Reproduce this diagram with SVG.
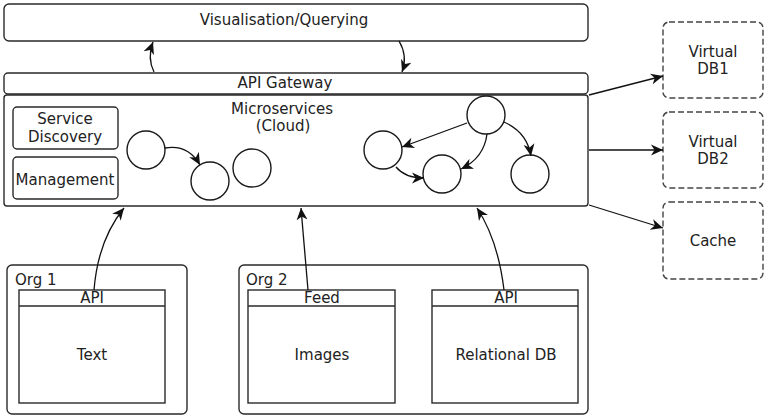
<svg xmlns="http://www.w3.org/2000/svg" width="768" height="419" viewBox="0 0 768 419">
<defs>
<style>
.box{fill:#fff;stroke:#2a2a2a;stroke-width:1.4}
.dash{fill:#fff;stroke:#444;stroke-width:1.4;stroke-dasharray:6 3}
.circ{fill:#fff;stroke:#1a1a1a;stroke-width:1.4}
.edge{fill:none;stroke:#111;stroke-width:1.3;marker-end:url(#arr)}
text{font-family:"DejaVu Sans","Liberation Sans",sans-serif;font-size:15px;fill:#222;text-anchor:middle}
.left{text-anchor:start}
</style>
<marker id="arr" markerUnits="userSpaceOnUse" markerWidth="14" markerHeight="12" refX="12" refY="5.5" orient="auto" viewBox="0 0 14 11">
<path d="M0,0 L12,5.5 L0,11 L3.5,5.5 z" fill="#111"/>
</marker>
</defs>
<rect width="768" height="419" fill="#fff"/>

<g id="visualisation">
<rect class="box" x="4" y="4" width="584" height="37" rx="5"/>
<text x="284" y="25">Visualisation/Querying</text>
</g>

<g id="api-gateway">
<rect class="box" x="4" y="73" width="584" height="21" rx="4"/>
<text x="285" y="88">API Gateway</text>
</g>

<g id="microservices">
<rect class="box" x="4" y="95" width="584" height="111" rx="3"/>
<text x="282" y="114">Microservices</text>
<text x="283" y="131">(Cloud)</text>
</g>

<g id="service-discovery">
<rect class="box" x="13" y="107" width="105" height="42" rx="4"/>
<text x="65" y="124">Service</text>
<text x="65" y="142">Discovery</text>
</g>

<g id="management">
<rect class="box" x="13" y="157" width="105" height="42" rx="4"/>
<text x="65" y="185">Management</text>
</g>

<g id="c1"><circle class="circ" cx="146" cy="150" r="19"/></g>
<g id="c2"><circle class="circ" cx="210" cy="181" r="19"/></g>
<g id="c3"><circle class="circ" cx="252" cy="168" r="19"/></g>
<g id="c4"><circle class="circ" cx="383" cy="150" r="19"/></g>
<g id="c5"><circle class="circ" cx="486" cy="115" r="19"/></g>
<g id="c6"><circle class="circ" cx="442" cy="174" r="19"/></g>
<g id="c7"><circle class="circ" cx="530" cy="174" r="19"/></g>

<g id="virtual-db1">
<rect class="dash" x="663" y="22" width="100" height="76" rx="6"/>
<text x="713" y="57">Virtual</text>
<text x="713" y="74">DB1</text>
</g>
<g id="virtual-db2">
<rect class="dash" x="663" y="112" width="100" height="76" rx="6"/>
<text x="713" y="147">Virtual</text>
<text x="713" y="164">DB2</text>
</g>
<g id="cache">
<rect class="dash" x="663" y="202" width="100" height="77" rx="6"/>
<text x="713" y="246">Cache</text>
</g>

<g id="org1">
<rect class="box" x="7" y="265" width="180" height="149" rx="5"/>
<text class="left" x="15" y="285">Org 1</text>
</g>
<g id="text-source">
<rect class="box" x="19" y="290" width="146" height="113"/>
<line x1="19" y1="306" x2="165" y2="306" stroke="#2a2a2a" stroke-width="1.4"/>
<text x="92" y="303">API</text>
<text x="92" y="360">Text</text>
</g>

<g id="org2">
<rect class="box" x="239" y="265" width="349" height="149" rx="5"/>
<text class="left" x="246" y="285">Org 2</text>
</g>
<g id="images-source">
<rect class="box" x="248" y="290" width="147" height="113"/>
<line x1="248" y1="306" x2="395" y2="306" stroke="#2a2a2a" stroke-width="1.4"/>
<text x="322" y="303">Feed</text>
<text x="322" y="360">Images</text>
</g>
<g id="relational-source">
<rect class="box" x="432" y="290" width="146" height="113"/>
<line x1="432" y1="306" x2="578" y2="306" stroke="#2a2a2a" stroke-width="1.4"/>
<text x="506" y="303">API</text>
<text x="506" y="360">Relational DB</text>
</g>

<g id="connectors">
<path class="edge" d="M154,72 Q147,58 153,42"/>
<path class="edge" d="M399,41 Q408,56 402,72"/>
<path class="edge" d="M165,148 Q188,144 200,165"/>
<path class="edge" d="M467,123 L402,147"/>
<path class="edge" d="M487,134 Q484,158 461,169"/>
<path class="edge" d="M504,122 Q527,132 531,156"/>
<path class="edge" d="M396,167 Q405,178 424,178"/>
<path class="edge" d="M589,95 L663,76"/>
<path class="edge" d="M589,150 L663,150"/>
<path class="edge" d="M589,205 L663,228"/>
<path class="edge" d="M94,290 Q98,240 124,208"/>
<path class="edge" d="M308,290 L301,208"/>
<path class="edge" d="M504,290 Q498,240 477,208"/>
</g>
</svg>
